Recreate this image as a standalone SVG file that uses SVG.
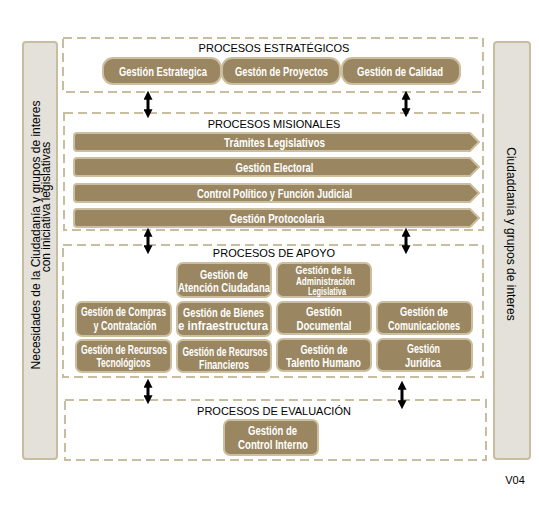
<svg xmlns="http://www.w3.org/2000/svg" width="539" height="510" viewBox="0 0 539 510">
<style>
.side{fill:#e4e1da;stroke:#c9bd9f;stroke-width:2}
.dash{fill:none;stroke:#c9bd9f;stroke-width:2;stroke-dasharray:9 5}
.btn{fill:#9a8761;stroke:#cbbf9f;stroke-width:2}
.hdr{font-family:"Liberation Sans",Arial,sans-serif;font-size:11px;fill:#000;text-anchor:middle}
.bt{font-family:"Liberation Sans",Arial,sans-serif;font-weight:bold;font-size:12px;fill:#fff;text-anchor:middle}
.lg{font-size:13px}
.sm{font-size:11px}
.st{font-family:"Liberation Sans",Arial,sans-serif;font-size:12px;fill:#000;text-anchor:middle}
.arr{stroke:#000;stroke-width:3;fill:none}
</style>
<defs>
<marker id="ah" viewBox="0 0 10 10" refX="3" refY="5" markerWidth="3" markerHeight="3" orient="auto-start-reverse" markerUnits="strokeWidth">
<path d="M0,0 L10,5 L0,10 Z" fill="#000"/>
</marker>
</defs>
<rect width="539" height="510" fill="#fff"/>

<g id="left-panel">
<rect class="side" x="23" y="42" width="34" height="417" rx="3"/>
<text class="st" transform="translate(40,235) rotate(-90)">Necesidades de la Ciudadanía y grupos de interes</text>
<text class="st" transform="translate(50,207) rotate(-90)">con iniciativa legislativas</text>
</g>
<g id="right-panel">
<rect class="side" x="494" y="42" width="36" height="417" rx="3"/>
<text class="st" transform="translate(507,234) rotate(90)">Ciudaddanía y grupos de interes</text>
</g>

<g id="estrategicos">
<rect class="dash" x="63" y="38" width="420" height="54"/>
<text class="hdr" x="274" y="52">PROCESOS ESTRATÉGICOS</text>
<g id="gestion-estrategica"><rect class="btn" x="103" y="58" width="118" height="26" rx="10"/><text class="bt lg" x="163" y="76" textLength="88" lengthAdjust="spacingAndGlyphs">Gestión Estrategica</text></g>
<g id="gestion-proyectos"><rect class="btn" x="222" y="58" width="118" height="26" rx="10"/><text class="bt lg" x="281.5" y="76" textLength="93" lengthAdjust="spacingAndGlyphs">Gestón de Proyectos</text></g>
<g id="gestion-calidad"><rect class="btn" x="342" y="58" width="118" height="26" rx="10"/><text class="bt lg" x="400" y="76" textLength="86" lengthAdjust="spacingAndGlyphs">Gestión de Calidad</text></g>
</g>

<g id="misionales">
<rect class="dash" x="64" y="113" width="419" height="117"/>
<text class="hdr" x="274" y="128">PROCESOS MISIONALES</text>
<g id="tramites"><path class="btn" d="M77,133 H470 L479,142 L470,151 H77 Q74,151 74,148 V136 Q74,133 77,133 Z"/><text class="bt" x="274.5" y="146.5" textLength="101" lengthAdjust="spacingAndGlyphs">Trámites Legislativos</text></g>
<g id="electoral"><path class="btn" d="M77,158 H470 L479,167 L470,176 H77 Q74,176 74,173 V161 Q74,158 77,158 Z"/><text class="bt" x="274.5" y="171.5" textLength="78" lengthAdjust="spacingAndGlyphs">Gestión Electoral</text></g>
<g id="control-politico"><path class="btn" d="M77,184 H470 L479,193 L470,202 H77 Q74,202 74,199 V187 Q74,184 77,184 Z"/><text class="bt" x="274.5" y="197.5" textLength="155" lengthAdjust="spacingAndGlyphs">Control Político y Función Judicial</text></g>
<g id="protocolaria"><path class="btn" d="M77,209 H470 L479,218 L470,227 H77 Q74,227 74,224 V212 Q74,209 77,209 Z"/><text class="bt" x="277" y="222.5" textLength="95" lengthAdjust="spacingAndGlyphs">Gestión Protocolaria</text></g>
</g>

<g id="apoyo">
<rect class="dash" x="63" y="245" width="420" height="132"/>
<text class="hdr" x="274" y="257">PROCESOS DE APOYO</text>
<g id="atencion"><rect class="btn" x="177" y="263" width="94" height="34" rx="6"/><text class="bt" x="224" y="279" textLength="48" lengthAdjust="spacingAndGlyphs">Gestión de</text><text class="bt" x="224" y="292" textLength="92" lengthAdjust="spacingAndGlyphs">Atención Ciudadana</text></g>
<g id="administracion"><rect class="btn" x="277" y="263" width="94" height="34" rx="6"/><text class="bt sm" x="323.5" y="274" textLength="56" lengthAdjust="spacingAndGlyphs">Gestión de la</text><text class="bt sm" x="325.5" y="284.5" textLength="59" lengthAdjust="spacingAndGlyphs">Administración</text><text class="bt sm" x="327" y="295" textLength="38" lengthAdjust="spacingAndGlyphs">Legislativa</text></g>
<g id="compras"><rect class="btn" x="76" y="302" width="95" height="34" rx="6"/><text class="bt" x="123.5" y="316" textLength="85" lengthAdjust="spacingAndGlyphs">Gestión de Compras</text><text class="bt" x="125" y="330" textLength="63" lengthAdjust="spacingAndGlyphs">y Contratación</text></g>
<g id="bienes"><rect class="btn" x="177" y="302" width="94" height="34" rx="6"/><text class="bt" x="223.5" y="317" textLength="81" lengthAdjust="spacingAndGlyphs">Gestión de Bienes</text><text class="bt" x="223" y="330" textLength="90" lengthAdjust="spacingAndGlyphs">e infraestructura</text></g>
<g id="documental"><rect class="btn" x="277" y="302" width="94" height="32" rx="6"/><text class="bt" x="324" y="316" textLength="36" lengthAdjust="spacingAndGlyphs">Gestión</text><text class="bt" x="324" y="329.5" textLength="55" lengthAdjust="spacingAndGlyphs">Documental</text></g>
<g id="comunicaciones"><rect class="btn" x="377" y="302" width="95" height="32" rx="6"/><text class="bt" x="424" y="316" textLength="48" lengthAdjust="spacingAndGlyphs">Gestión de</text><text class="bt" x="424" y="330" textLength="72" lengthAdjust="spacingAndGlyphs">Comunicaciones</text></g>
<g id="tecnologicos"><rect class="btn" x="76" y="340" width="95" height="32" rx="6"/><text class="bt" x="124" y="354" textLength="86" lengthAdjust="spacingAndGlyphs">Gestión de Recursos</text><text class="bt" x="123.5" y="367" textLength="54" lengthAdjust="spacingAndGlyphs">Tecnológicos</text></g>
<g id="financieros"><rect class="btn" x="177" y="340" width="94" height="32" rx="6"/><text class="bt" x="225" y="355.5" textLength="85" lengthAdjust="spacingAndGlyphs">Gestión de Recursos</text><text class="bt" x="224" y="368.5" textLength="50" lengthAdjust="spacingAndGlyphs">Financieros</text></g>
<g id="talento"><rect class="btn" x="277" y="339" width="94" height="32" rx="6"/><text class="bt" x="324" y="353.5" textLength="47" lengthAdjust="spacingAndGlyphs">Gestión de</text><text class="bt" x="323.5" y="367" textLength="75" lengthAdjust="spacingAndGlyphs">Talento Humano</text></g>
<g id="juridica"><rect class="btn" x="377" y="339" width="95" height="32" rx="6"/><text class="bt" x="423.5" y="353" textLength="33" lengthAdjust="spacingAndGlyphs">Gestión</text><text class="bt" x="423" y="367" textLength="36" lengthAdjust="spacingAndGlyphs">Jurídica</text></g>
</g>

<g id="evaluacion">
<rect class="dash" x="65" y="400" width="421" height="60"/>
<text class="hdr" x="274" y="415">PROCESOS DE EVALUACIÓN</text>
<g id="control-interno"><rect class="btn" x="224" y="420" width="94" height="35" rx="6"/><text class="bt" x="272.5" y="435" textLength="49" lengthAdjust="spacingAndGlyphs">Gestión de</text><text class="bt" x="273" y="449" textLength="70" lengthAdjust="spacingAndGlyphs">Control Interno</text></g>
</g>

<g id="connectors">
<line class="arr" x1="148" y1="97" x2="148" y2="112" marker-start="url(#ah)" marker-end="url(#ah)"/>
<line class="arr" x1="406" y1="97" x2="406" y2="111" marker-start="url(#ah)" marker-end="url(#ah)"/>
<line class="arr" x1="148" y1="234" x2="148" y2="248" marker-start="url(#ah)" marker-end="url(#ah)"/>
<line class="arr" x1="406" y1="234" x2="406" y2="248" marker-start="url(#ah)" marker-end="url(#ah)"/>
<line class="arr" x1="148" y1="385" x2="148" y2="398" marker-start="url(#ah)" marker-end="url(#ah)"/>
<line class="arr" x1="402" y1="387" x2="402" y2="403" marker-start="url(#ah)" marker-end="url(#ah)"/>
</g>

<text x="515" y="484" class="hdr">V04</text>
</svg>
